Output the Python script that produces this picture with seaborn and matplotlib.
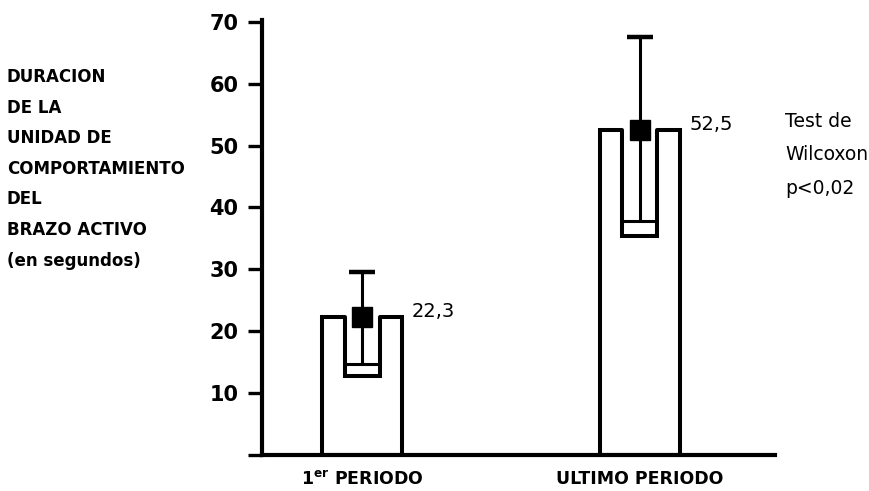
import numpy as np
import pandas as pd
import seaborn as sns
import matplotlib
matplotlib.use("Agg")
import matplotlib.pyplot as plt

# data
periodos = ["1$^{\\mathbf{er}}$ PERIODO", "ULTIMO PERIODO"]
media = [22.3, 52.5]
error_sup = [29.6, 67.6]
error_inf = [14.7, 37.8]
caja_inf = [12.8, 35.4]
etiquetas_media = ["22,3", "52,5"]
yticks = [0, 10, 20, 30, 40, 50, 60, 70]
ytick_labels = ["", "10", "20", "30", "40", "50", "60", "70"]
ylabel_lineas = ["DURACION", "DE LA", "UNIDAD DE", "COMPORTAMIENTO",
                 "DEL", "BRAZO ACTIVO", "(en segundos)"]
test_lineas = ["Test de", "Wilcoxon", "p<0,02"]

df = pd.DataFrame({"periodo": periodos, "duracion": media})

sns.set_style("white")
plt.rcParams["font.family"] = ["DejaVu Sans"]
plt.rcParams["text.color"] = "black"
plt.rcParams["xtick.color"] = "black"
plt.rcParams["ytick.color"] = "black"

fig = plt.figure(figsize=(8.7, 4.91), dpi=100)
ax = fig.add_axes([262 / 870, 36 / 491, (775 - 262) / 870, (455 - 20) / 491])

ancho = 0.288
ancho_in = 0.126
lw = 2.9

sns.barplot(data=df, x="periodo", y="duracion", color="white", saturation=1,
            edgecolor="black", linewidth=lw, width=ancho, errorbar=None, ax=ax)

for i in range(len(periodos)):
    m = media[i]
    # inner notch (U shape) from bar top down to caja_inf
    ax.bar(i, m - caja_inf[i] + 0.6, bottom=caja_inf[i], width=ancho_in,
           color="white", edgecolor="none", zorder=3)
    x0, x1 = i - ancho_in / 2, i + ancho_in / 2
    ax.plot([x0, x0, x1, x1], [m, caja_inf[i], caja_inf[i], m],
            color="black", lw=lw, zorder=4, solid_joinstyle="miter")
    # error bars
    ax.vlines(i, m, error_sup[i], color="black", lw=2.2, zorder=5)
    ax.hlines(error_sup[i], i - 0.048, i + 0.048, color="black", lw=3.2, zorder=5)
    ax.vlines(i, error_inf[i], m, color="black", lw=2.2, zorder=5)
    ax.hlines(error_inf[i], x0, x1, color="black", lw=2.2, zorder=5)
    # mean marker
    ax.plot(i, m, marker="s", ms=15, color="black", zorder=6)
    ax.text(i + 0.18, m, etiquetas_media[i], fontsize=14, va="baseline", ha="left")

ax.set_xlim(-0.36, 1.486)
ax.set_ylim(0, 70.3)
ax.set_yticks(yticks)
ax.set_yticklabels(ytick_labels, fontsize=15, fontweight="bold")
ax.set_xticks(range(len(periodos)))
ax.set_xticklabels(periodos, fontsize=12.5, fontweight="bold")
ax.tick_params(axis="y", length=10, width=2.4, pad=7, left=True, color="black")
ax.tick_params(axis="x", length=0, pad=11)
ax.set_xlabel("")
ax.set_ylabel("")

sns.despine(ax=ax)
for s in ["left", "bottom"]:
    ax.spines[s].set_linewidth(3)
    ax.spines[s].set_color("black")

fig.text(7 / 870, 1 - 68 / 491, "\n".join(ylabel_lineas), fontsize=12,
         fontweight="bold", va="top", ha="left", linespacing=1.9)
fig.text(785 / 870, 1 - 112 / 491, "\n".join(test_lineas), fontsize=13.5,
         va="top", ha="left", linespacing=1.95)

fig.savefig("out.png", dpi=100)
